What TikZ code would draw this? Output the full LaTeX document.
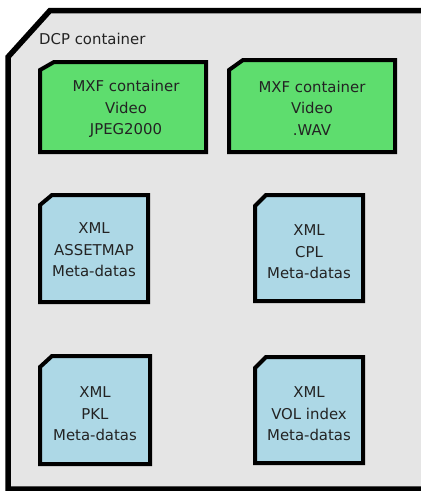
\documentclass[tikz,border=0pt]{standalone}
\usepackage{fontspec}
\setmainfont{DejaVu Sans}
\begin{document}
\begin{tikzpicture}[x=1pt,y=-1pt,
  outerbox/.style={draw=black,line width=5.5pt,fill=bggray,line join=miter},
  greenbox/.style={draw=black,line width=4pt,fill=mxfgreen,line join=miter},
  bluebox/.style={draw=black,line width=4pt,fill=xmlblue,line join=miter},
  lbl/.style={text=txtgray,font=\fontsize{14.9}{21.5}\selectfont,align=center,inner sep=0pt}]
\definecolor{bggray}{RGB}{229,229,229}
\definecolor{mxfgreen}{RGB}{94,221,110}
\definecolor{xmlblue}{RGB}{173,216,230}
\definecolor{txtgray}{RGB}{35,35,35}
\fill[white] (0,0) rectangle (421,491);
\clip (0,0) rectangle (421,491);
% outer DCP container
\draw[outerbox] (8,57) -- (50,10.5) -- (440,10.5) -- (440,489) -- (8,489) -- cycle;
\node[lbl,anchor=base west] (dcp) at (39,44) {DCP container};
% MXF boxes
\draw[greenbox] (40,70) -- (54,62) -- (206,62) -- (206,152) -- (40,152) -- cycle;
\node[lbl] (mxf1) at (126,109) {MXF container\\Video\\JPEG2000};
\draw[greenbox] (229,70) -- (243,60) -- (395,60) -- (395,152) -- (229,152) -- cycle;
\node[lbl] (mxf2) at (312,108) {MXF container\\Video\\.WAV};
% XML boxes
\draw[bluebox] (40,205) -- (52,195) -- (148,195) -- (148,302) -- (40,302) -- cycle;
\node[lbl] (asset) at (94,250) {XML\\ASSETMAP\\Meta-datas};
\draw[bluebox] (255,206) -- (266,195) -- (363,195) -- (363,301) -- (255,301) -- cycle;
\node[lbl] (cpl) at (309,252) {XML\\CPL\\Meta-datas};
\draw[bluebox] (40,367) -- (52,356) -- (150,356) -- (150,464) -- (40,464) -- cycle;
\node[lbl] (pkl) at (95,414) {XML\\PKL\\Meta-datas};
\draw[bluebox] (255,368) -- (266,357) -- (363,357) -- (363,463) -- (255,463) -- cycle;
\node[lbl] (vol) at (309,414) {XML\\VOL index\\Meta-datas};
\end{tikzpicture}
\end{document}
